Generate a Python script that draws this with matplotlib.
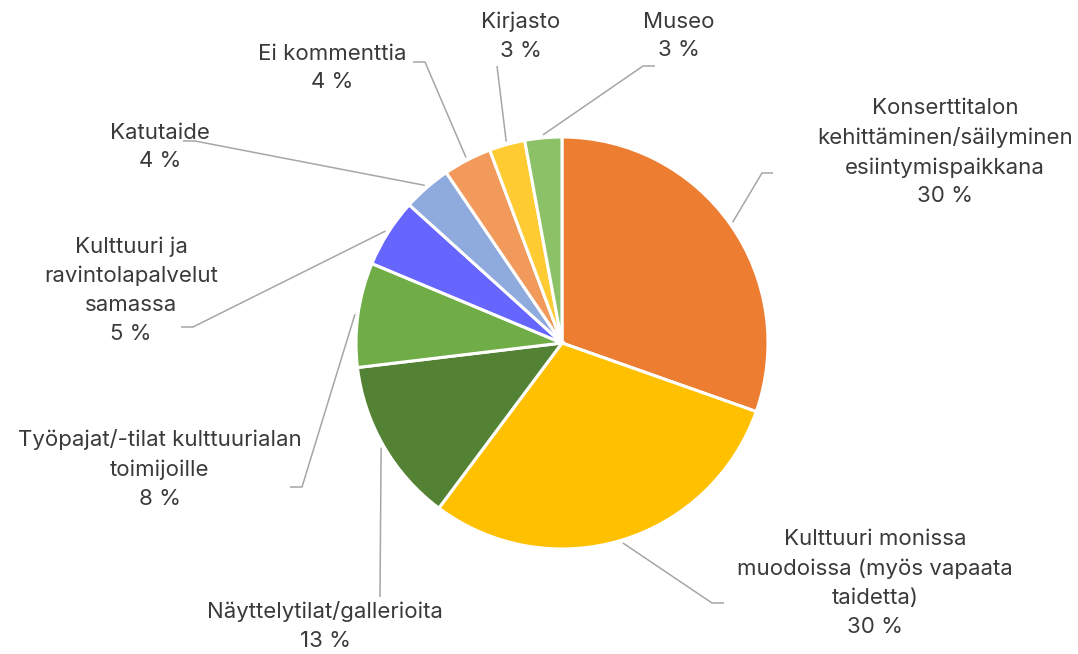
import matplotlib.pyplot as plt
import numpy as np

plt.rcParams['font.family'] = ['Inter', 'DejaVu Sans']

categories = ['Konserttitalon\nkehittäminen/säilyminen\nesiintymispaikkana',
              'Kulttuuri monissa\nmuodoissa (myös vapaata\ntaidetta)',
              'Näyttelytilat/gallerioita',
              'Työpajat/-tilat kulttuurialan\ntoimijoille',
              'Kulttuuri ja\nravintolapalvelut\nsamassa',
              'Katutaide',
              'Ei kommenttia',
              'Kirjasto',
              'Museo']
values = [30.4, 29.8, 12.9, 8.2, 5.4, 3.8, 3.8, 2.8, 2.9]
colors = ['#ED7D31', '#FFC000', '#548235', '#70AD47', '#6666FF',
          '#8FAADC', '#F19A5C', '#FFCB33', '#8CC168']

W, H = 1078, 654
# label layout in pixel coords (x, y from top): text centre, elbow, horizontal end
text_pos = [(945, 152), (875, 583), (325, 626), (160, 469), (131, 290),
            (160, 147), (332, 68), (521, 36), (679, 36)]
elbows = [(762, 173), (712, 603), (380, 597), (302, 487), (193, 327),
          (195, 141), (425, 62), (497, 66), (643, 66)]
ends = [(773, 173), (724, 603), None, (290, 487), (181, 327),
        (183, 141), (413, 62), None, (655, 66)]

fig = plt.figure(figsize=(W / 100, H / 100), dpi=100)
ax = fig.add_axes([0, 0, 1, 1])
cx, cy, r = 562, H - 343, 206
wedges, _ = ax.pie(values, colors=colors, startangle=90, counterclock=False,
                   radius=r, center=(cx, cy),
                   wedgeprops=dict(edgecolor='white', linewidth=2.2))
ax.set_xlim(0, W)
ax.set_ylim(0, H)
ax.set_aspect('equal')
ax.axis('off')

line_kw = dict(color='#A6A6A6', lw=1.1, solid_capstyle='butt')
for w, cat, v, tp, el, en in zip(wedges, categories, values, text_pos, elbows, ends):
    mid = np.deg2rad((w.theta1 + w.theta2) / 2)
    sx, sy = cx + (r + 3) * np.cos(mid), cy + (r + 3) * np.sin(mid)
    xs = [sx, el[0]]
    ys = [sy, H - el[1]]
    if en is not None:
        xs.append(en[0])
        ys.append(H - en[1])
    ax.plot(xs, ys, **line_kw)
    ax.text(tp[0], H - tp[1], f'{cat}\n{round(v)} %', ha='center', va='center',
            multialignment='center', fontsize=16, color='#3A3A3A', linespacing=1.55)

fig.savefig('out.png', dpi=100)
